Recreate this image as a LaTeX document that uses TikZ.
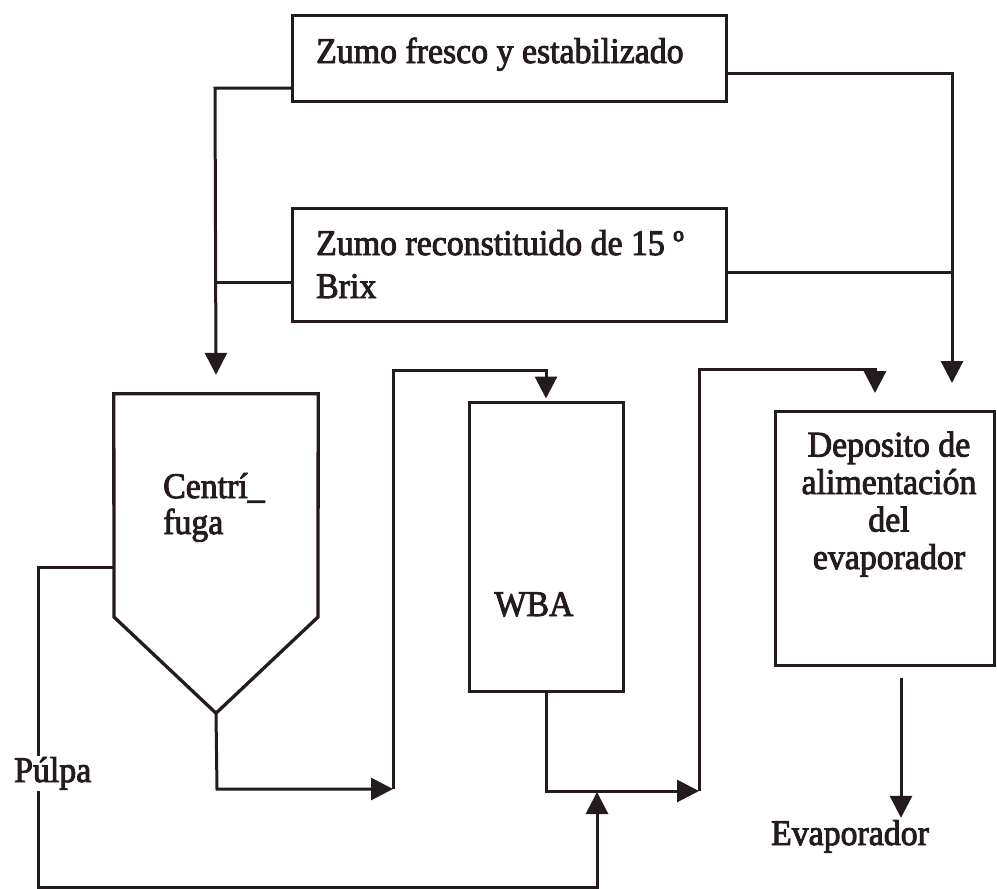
\documentclass[tikz,border=0pt]{standalone}
\usepackage{fontspec}
\setmainfont{Liberation Serif}[FakeStretch=0.94, FakeBold=2.5]
\usetikzlibrary{arrows.meta}
\definecolor{ink}{RGB}{36,27,32}
\begin{document}
\begin{tikzpicture}[x=1pt,y=-1pt,
  box/.style={draw=ink, line width=3pt, inner sep=0pt, fill=none},
  lbl/.style={text=ink, inner sep=0pt, font=\fontsize{36}{37.5}\selectfont},
  line/.style={draw=ink, line width=3pt},
  flow/.style={draw=ink, line width=3pt, -{Triangle[length=22pt,width=22pt]}}]
\useasboundingbox[fill=white] (0,0) rectangle (997,889);

% boxes
\node[box, minimum width=434pt, minimum height=86pt] (fresh) at (509,58) {};
\node[box, minimum width=434pt, minimum height=113pt] (recon) at (509,264.5) {};
\node[box, minimum width=154pt, minimum height=289pt] (wba) at (546,546.5) {};
\node[box, minimum width=219pt, minimum height=254pt] (dep) at (884.5,538) {};
\node[inner sep=0pt, minimum width=204pt, minimum height=319pt] (cf) at (216,553.5) {};
\draw[line, line width=3.3pt] (cf.north west) -- (cf.north east) -- (318,617) -- (cf.south) -- (114,617) -- cycle;

% texts
\node[lbl, anchor=base west] (tfresh) at (316,63) {Zumo fresco y estabilizado};
\node[lbl, anchor=base west] (trecon1) at (316,255) {Zumo reconstituido de 15 º};
\node[lbl, anchor=base west] (trecon2) at (316,298) {Brix};
\node[lbl, anchor=base west] (tcf1) at (163,498) {Centrí\_};
\node[lbl, anchor=base west] (tcf2) at (163,534) {fuga};
\node[lbl, anchor=base] (twba) at (534,616) {WBA};
\node[lbl, anchor=base, align=center] (tdep) at (889,569) {Deposito de\\alimentación\\del\\evaporador};
\node[lbl, anchor=base] (tevap) at (850,845) {Evaporador};

% connection points
\coordinate (fL) at (292,88);
\coordinate (fR) at (726,73);
\coordinate (rL) at (292,282);
\coordinate (rR) at (726,272);
\coordinate (cfL) at (114,567);
\coordinate (j1) at (393,789);
\coordinate (j2) at (699,791);

% connectors
\draw[flow] (fL) -- (215,88) -- ([yshift=19pt]cf.north);
\draw[line] (rL) -- (215,282);
\draw[flow] (fR) -- (952,73) -- (952,383);
\draw[line] (rR) -- (952,272);
\draw[flow] (cf.south) -- (217,789) -- (j1);
\draw[flow] (j1) -- (393,370) -- (546,370) -- ([yshift=2pt]wba.north);
\draw[flow] (wba.south) -- (546,791) -- (j2);
\draw[flow] (j2) -- (699,369) -- (875,369) -- (875,393);
\draw[flow] ([yshift=-11pt]dep.south -| 901,0) -- ([yshift=2pt]tevap.north -| 901,0);
\draw[flow] (cfL) -- (38,567) -- (38,887) -- (597,887) -- (597,792);
\node[lbl, anchor=base west, fill=white, inner sep=1pt] (tpulpa) at (13,782) {Púlpa};
\end{tikzpicture}
\end{document}
